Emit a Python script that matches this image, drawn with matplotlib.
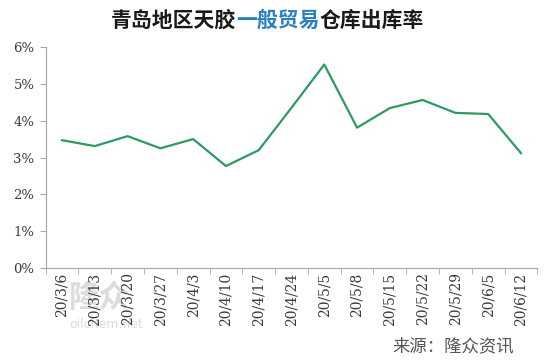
import matplotlib
matplotlib.use("Agg")
import matplotlib.pyplot as plt
from matplotlib.ticker import FuncFormatter, FixedLocator

dates = ["20/3/6", "20/3/13", "20/3/20", "20/3/27", "20/4/3", "20/4/10", "20/4/17",
         "20/4/24", "20/5/5", "20/5/8", "20/5/15", "20/5/22", "20/5/29", "20/6/5", "20/6/12"]
rates = [3.47, 3.31, 3.58, 3.25, 3.50, 2.77, 3.20, 4.35, 5.52, 3.81, 4.34, 4.56, 4.21, 4.18, 3.12]
yticks = [0, 1, 2, 3, 4, 5, 6]

fig = plt.figure(figsize=(5.5, 3.63), dpi=100)
ax = fig.add_axes([0.083, 0.261, 0.894, 0.610])

x = list(range(len(dates)))
ax.plot(x, rates, color="#2e9a62", lw=1.6)

ax.set_xlim(-0.5, len(dates) - 0.5)
ax.set_ylim(0, 6)
ax.set_yticks(yticks)
ax.yaxis.set_major_formatter(FuncFormatter(lambda v, p: f"{int(v)}%"))

ax.set_xticks(x)
ax.set_xticklabels(dates, rotation=90, fontsize=10, family="DejaVu Serif", color="#3a3a3a")
ax.xaxis.set_minor_locator(FixedLocator([i - 0.5 for i in range(len(dates) + 1)]))
ax.tick_params(axis="x", which="major", length=0, pad=3)
ax.tick_params(axis="x", which="minor", length=4, color="#aaaaaa", direction="out")
ax.tick_params(axis="y", length=4, color="#aaaaaa", direction="out", labelsize=9.5, pad=4)
for lab in ax.get_yticklabels():
    lab.set_family("DejaVu Serif")
    lab.set_color("#3a3a3a")

for s in ["top", "right"]:
    ax.spines[s].set_visible(False)
for s in ["left", "bottom"]:
    ax.spines[s].set_color("#aaaaaa")
    ax.spines[s].set_linewidth(0.9)

# Title with colored segment
cjk = ["Noto Sans CJK SC", "DejaVu Sans"]
parts = [("青岛地区天胶", "#1a1a1a"), ("一般贸易", "#2a7fc0"), ("仓库出库率", "#1a1a1a")]
fig.canvas.draw()
renderer = fig.canvas.get_renderer()
texts = []
for s, c in parts:
    t = fig.text(0, 0.945, s, color=c, fontsize=15, fontweight="bold", family=cjk, va="center", ha="left")
    texts.append(t)
widths = [t.get_window_extent(renderer).width / fig.bbox.width for t in texts]
total = sum(widths)
start = 0.487 - total / 2
for t, w in zip(texts, widths):
    t.set_x(start)
    start += w

# watermark
fig.text(0.125, 0.18, "隆众", fontsize=22, color="#dcdcdc", family=cjk, fontweight="bold", va="center", zorder=-1)
fig.text(0.125, 0.105, "oilchem.net", fontsize=9, color="#dcdcdc", va="center", zorder=-1)

fig.text(0.935, 0.045, "来源：隆众资讯", fontsize=12.5, color="#555555", family=cjk, fontweight="light",
         ha="right", va="center")

fig.savefig("out.png", dpi=100)
